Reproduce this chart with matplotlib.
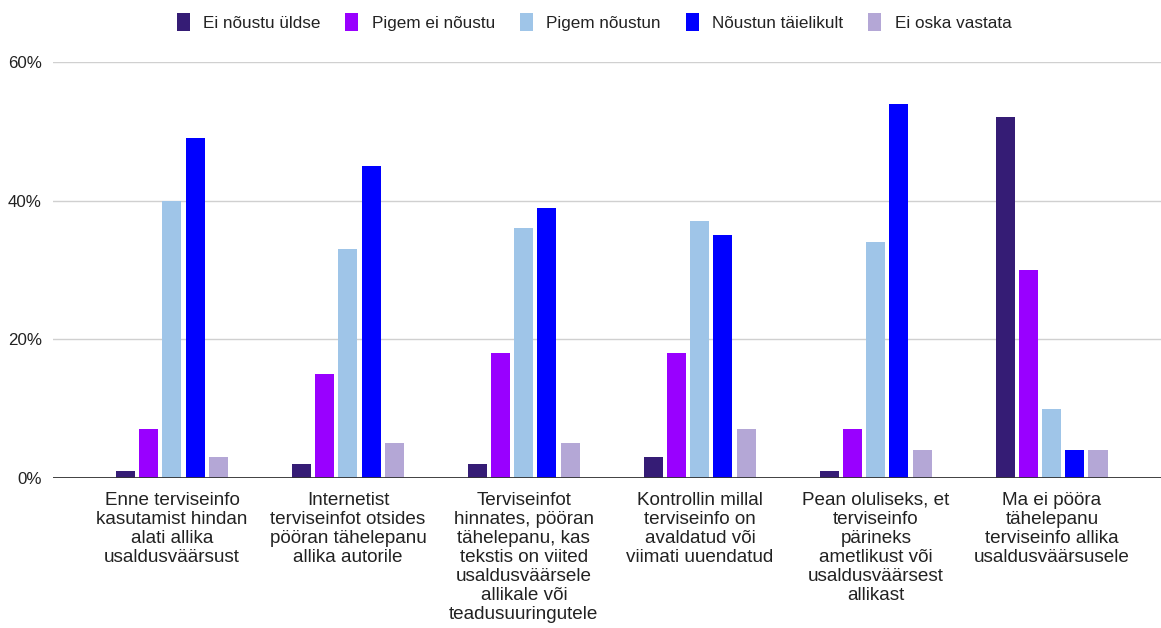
import matplotlib
matplotlib.use("Agg")
import matplotlib.pyplot as plt
import numpy as np
from matplotlib.ticker import FuncFormatter

plt.rcParams['font.family'] = ['Liberation Sans', 'DejaVu Sans']

categories = [
    "Enne terviseinfo\nkasutamist hindan\nalati allika\nusaldusväärsust",
    "Internetist\nterviseinfot otsides\npööran tähelepanu\nallika autorile",
    "Terviseinfot\nhinnates, pööran\ntähelepanu, kas\ntekstis on viited\nusaldusväärsele\nallikale või\nteadusuuringutele",
    "Kontrollin millal\nterviseinfo on\navaldatud või\nviimati uuendatud",
    "Pean oluliseks, et\nterviseinfo\npärineks\nametlikust või\nusaldusväärsest\nallikast",
    "Ma ei pööra\ntähelepanu\nterviseinfo allika\nusaldusväärsusele",
]

series_names = ["Ei nõustu üldse", "Pigem ei nõustu", "Pigem nõustun",
                "Nõustun täielikult", "Ei oska vastata"]

ei_noustu_uldse = [1, 2, 2, 3, 1, 52]
pigem_ei_noustu = [7, 15, 18, 18, 7, 30]
pigem_noustun = [40, 33, 36, 37, 34, 10]
noustun_taielikult = [49, 45, 39, 35, 54, 4]
ei_oska_vastata = [3, 5, 5, 7, 4, 4]

series_values = [ei_noustu_uldse, pigem_ei_noustu, pigem_noustun,
                 noustun_taielikult, ei_oska_vastata]
colors = ["#351c75", "#9900ff", "#9fc5e8", "#0000ff", "#b4a7d6"]

fig = plt.figure(figsize=(11.61, 6.28), dpi=100)
ax = fig.add_axes([53 / 1161, 150 / 628, (1161 - 53) / 1161, (478 - 62) / 628])

x = np.arange(len(categories))
width = 0.108
step = 0.131
for i, (name, vals, col) in enumerate(zip(series_names, series_values, colors)):
    ax.bar(x + (i - 2) * step, vals, width=width, color=col, label=name, zorder=3)

ax.set_xlim(-0.676, 5.62)
ax.set_ylim(0, 60)
ax.set_yticks([0, 20, 40, 60])
ax.yaxis.set_major_formatter(FuncFormatter(lambda v, p: f"{int(v)}%"))
ax.grid(axis='y', color='#d0d0d0', linewidth=1, zorder=0)
ax.axhline(0, color='#333333', linewidth=1.3, zorder=4)

for s in ax.spines.values():
    s.set_visible(False)
ax.tick_params(axis='both', length=0, colors='#222222')
ax.tick_params(axis='y', pad=8, labelsize=12.2)
ax.tick_params(axis='x', pad=10, labelsize=13.6)
ax.set_xticks(x)
ax.set_xticklabels(categories, linespacing=1.15)

handles, labels = ax.get_legend_handles_labels()
fig.legend(handles, labels, loc='center', bbox_to_anchor=(594 / 1161, 1 - 22 / 628),
           ncol=5, frameon=False, fontsize=12.3, handlelength=0.75, handleheight=1.2,
           columnspacing=1.45, handletextpad=0.8, labelcolor='#222222')

fig.savefig("out.png", dpi=100)
